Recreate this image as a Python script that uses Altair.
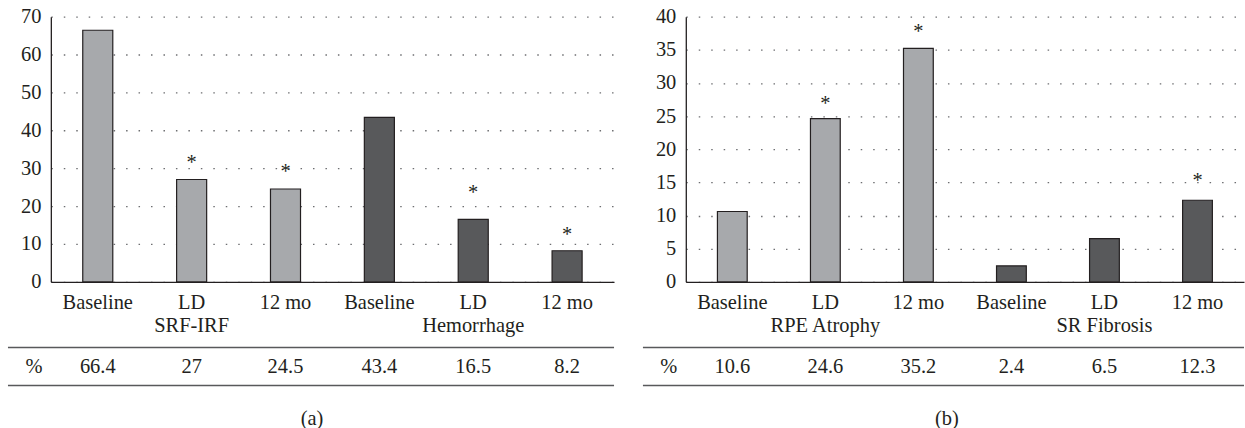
import altair as alt
import pandas as pd

timepoints = ["Baseline", "LD", "12 mo"]

groups_a = ["SRF-IRF", "Hemorrhage"]
values_a = [66.4, 27, 24.5, 43.4, 16.5, 8.2]
table_a = ["66.4", "27", "24.5", "43.4", "16.5", "8.2"]
stars_a = [None, 32.6, 30.3, None, 24.7, 13.7]

groups_b = ["RPE Atrophy", "SR Fibrosis"]
values_b = [10.6, 24.6, 35.2, 2.4, 6.5, 12.3]
table_b = ["10.6", "24.6", "35.2", "2.4", "6.5", "12.3"]
stars_b = [None, 27.6, 38.4, None, None, 16.0]

FONT = "Liberation Serif"
INK = "#231F20"
FS = 20.5
H = 266


def panel(groups, values, table, stars, ymax, ystep, tag, width):
    rows = []
    for gi, g in enumerate(groups):
        for ti, t in enumerate(timepoints):
            i = gi * 3 + ti
            rows.append(dict(key=f"{g}|{t}", group=g, tp=t, value=values[i],
                             label=table[i], shade="light" if gi == 0 else "dark",
                             mid=(ti == 1)))
    df = pd.DataFrame(rows)
    order = list(df["key"])
    star_df = pd.DataFrame([dict(key=r["key"], value=s) for r, s in zip(rows, stars) if s is not None])
    mid_df = df[df["mid"]].copy()

    x = alt.X("key:N", sort=order,
              scale=alt.Scale(paddingInner=0.68, paddingOuter=0.34),
              axis=alt.Axis(title=None, labelExpr="split(datum.label, '|')[1]",
                            labelAngle=0, ticks=False, grid=False, domain=True,
                            domainColor=INK, domainWidth=1.3, labelPadding=11,
                            labelFont=FONT, labelFontSize=FS, labelColor=INK))
    yscale = alt.Scale(domain=[0, ymax], nice=False)
    y = alt.Y("value:Q", scale=yscale,
              axis=alt.Axis(title=None, values=list(range(0, ymax + 1, ystep)),
                            labelOverlap=False,
                            ticks=False, grid=True, gridDash=[1.5, 11],
                            gridColor="#6D6E71", gridWidth=1.3,
                            domain=True, domainColor=INK, domainWidth=1.3,
                            labelPadding=10, labelFont=FONT, labelFontSize=FS,
                            labelColor=INK))

    bars = alt.Chart(df).mark_bar(stroke=INK, strokeWidth=1.2).encode(
        x=x, y=y,
        color=alt.Color("shade:N", scale=alt.Scale(domain=["light", "dark"],
                                                   range=["#A7A9AC", "#58595B"]),
                        legend=None))
    star = alt.Chart(star_df).mark_text(text="*", font=FONT, fontSize=FS, color=INK,
                                        dy=5).encode(x=x, y=y)
    glabel = alt.Chart(mid_df).mark_text(font=FONT, fontSize=FS, color=INK).encode(
        x=x, y=alt.value(H + 44), text="group:N")
    pct = alt.Chart(df).mark_text(font=FONT, fontSize=FS, color=INK).encode(
        x=x, y=alt.value(H + 86), text="label:N")
    one = pd.DataFrame({"t": ["%"], "tag": [tag]})
    pct_sym = alt.Chart(one).mark_text(font=FONT, fontSize=FS, color=INK).encode(
        x=alt.value(-17), y=alt.value(H + 86), text="t:N")
    line1 = alt.Chart(one).mark_rule(color="#58595B", strokeWidth=1.6).encode(
        x=alt.value(-43), x2=alt.value(width), y=alt.value(H + 66))
    line2 = alt.Chart(one).mark_rule(color="#58595B", strokeWidth=1.6).encode(
        x=alt.value(-43), x2=alt.value(width), y=alt.value(H + 104))
    tagt = alt.Chart(one).mark_text(font=FONT, fontSize=FS, color=INK).encode(
        x=alt.value(262), y=alt.value(H + 138), text="tag:N")
    return alt.layer(bars, star, glabel, pct, pct_sym, line1, line2, tagt).properties(
        width=width, height=H)


pa = panel(groups_a, values_a, table_a, stars_a, 70, 10, "(a)", 565)
pb = panel(groups_b, values_b, table_b, stars_b, 40, 5, "(b)", 560)

chart = alt.hconcat(pa, pb, spacing=27).configure(
    padding={"left": 7, "top": 6, "right": 0, "bottom": 0}
).configure_view(stroke=None)

chart.save("out.html", embed_options={"renderer": "svg", "actions": False})
